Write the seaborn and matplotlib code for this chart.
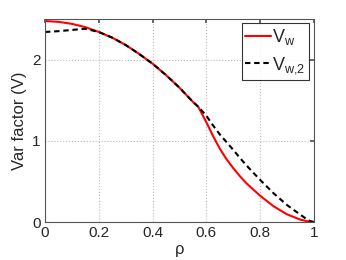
import numpy as np
import pandas as pd
import seaborn as sns
import matplotlib
matplotlib.use("Agg")
import matplotlib.pyplot as plt

# values
rho = [0, 0.05, 0.1, 0.15, 0.2, 0.25, 0.3, 0.35, 0.4, 0.45, 0.5, 0.55, 0.57,
       0.6, 0.625, 0.65, 0.675, 0.7, 0.725, 0.75, 0.8, 0.85, 0.9, 0.95, 0.98, 1.0]
v_w = [2.475, 2.465, 2.44, 2.40, 2.34, 2.27, 2.18, 2.07, 1.95, 1.81, 1.655, 1.48, 1.42,
       1.23, 1.06, 0.905, 0.775, 0.665, 0.565, 0.475, 0.325, 0.195, 0.095, 0.03, 0.006, 0.0]
v_w2 = [2.34, 2.35, 2.365, 2.38, 2.34, 2.27, 2.18, 2.07, 1.95, 1.81, 1.655, 1.48, 1.42,
        1.31, 1.19, 1.08, 0.985, 0.89, 0.79, 0.695, 0.52, 0.355, 0.21, 0.09, 0.02, 0.0]

x_ticks = [0, 0.2, 0.4, 0.6, 0.8, 1]
x_labels = ["0", "0.2", "0.4", "0.6", "0.8", "1"]
y_ticks = [0, 1, 2]

sns.set_theme(style="white")
plt.rcParams['font.family'] = ['Liberation Sans', 'DejaVu Sans']
plt.rcParams['mathtext.default'] = 'regular'

lab1 = "$V_w$"
lab2 = "$V_{w{,}2}$"
df = pd.DataFrame({"rho": rho, "vw": v_w, "vw2": v_w2})

fig = plt.figure(figsize=(3.46, 2.6), dpi=100)
ax = fig.add_axes([0.130, 0.146, 0.777, 0.781])

sns.lineplot(data=df, x="rho", y="vw", color="red", linewidth=1.5,
             legend=False, ax=ax)
sns.lineplot(data=df, x="rho", y="vw2", color="black", linewidth=1.5,
             linestyle=(0, (2.6, 1.8)), legend=False, ax=ax)

ax.set_xlim(0, 1)
ax.set_ylim(0, 2.5)
ax.set_xticks(x_ticks)
ax.set_xticklabels(x_labels)
ax.set_yticks(y_ticks)
ax.grid(True, linestyle=':', color='#bbbbbb', linewidth=0.8)
ax.tick_params(direction='in', length=3, labelsize=11, top=True, right=True,
               color='#555555', pad=3)
for s in ax.spines.values():
    s.set_color('#555555')
    s.set_linewidth(0.8)
ax.set_xlabel("ρ", fontsize=12, labelpad=1)
ax.set_ylabel("Var factor (V)", fontsize=12, labelpad=4)

leg = ax.legend(handles=ax.lines[:2], labels=[lab1, lab2], loc='upper right',
                fontsize=13, frameon=True, fancybox=False, edgecolor='black',
                handlelength=1.4, borderpad=0.2, labelspacing=0.45,
                handletextpad=0.1, borderaxespad=0.25)
leg.get_frame().set_linewidth(0.8)

fig.savefig("out.png", dpi=100)
